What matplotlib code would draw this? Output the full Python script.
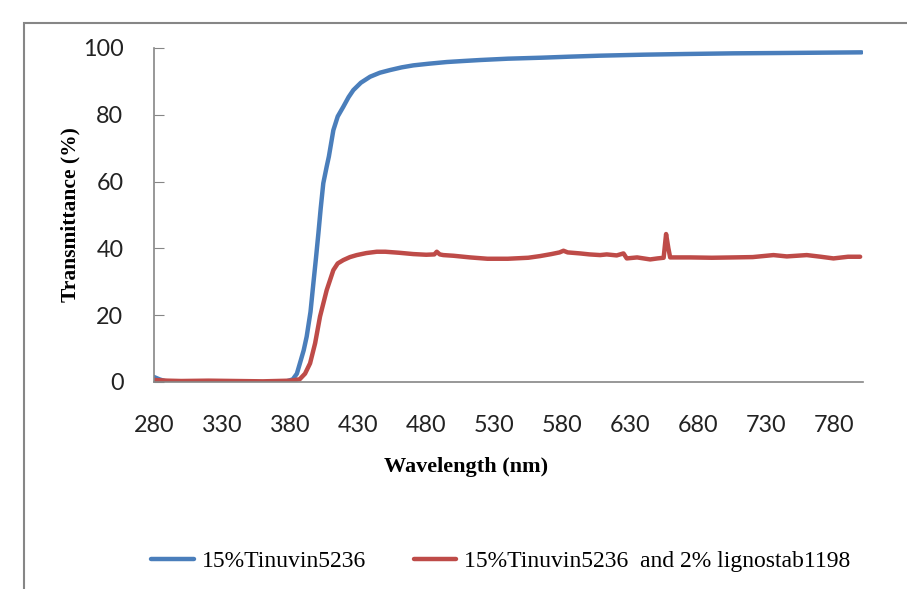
import matplotlib.pyplot as plt
from matplotlib.patches import Rectangle

# wavelength (nm) / transmittance (%)
wl_tinuvin = [280, 284, 290, 300, 320, 340, 360, 376, 382, 385, 387.3, 390, 392.2,
              395, 397.1, 399, 400.8, 402.5, 404.4, 406.9, 408.5, 411.8, 415, 419.1,
              423, 426.5, 432, 438.8, 446, 453.5, 462, 470.6, 482, 495.1, 507,
              519.6, 540, 565, 585, 607.8, 640, 670, 705.6, 740, 770, 800]
t_tinuvin = [1.5, 0.8, 0.0, -0.3, -0.3, -0.3, -0.3, 0.0, 0.8, 2.5, 5.7, 9.5, 13.6,
             21.0, 29.5, 37.0, 44.5, 52.0, 59.5, 64.5, 67.5, 75.4, 79.5, 82.4,
             85.3, 87.4, 89.6, 91.4, 92.6, 93.4, 94.2, 94.8, 95.3, 95.8, 96.1,
             96.4, 96.8, 97.1, 97.4, 97.7, 98.0, 98.2, 98.4, 98.5, 98.6, 98.7]

wl_ligno = [280, 290, 300, 320, 340, 360, 380, 387, 391, 394.7, 398.4, 402, 406.9,
            411.8, 415, 419.1, 424, 429, 436, 443.7, 450, 460, 470.6, 480, 486,
            487.8, 490, 492.6, 500, 512.3, 525, 540, 555, 563.7, 572, 578, 580.9,
            584, 593, 600, 607.8, 612.7, 620, 625, 627.4, 635, 644.6, 650, 654.5,
            656.3, 658, 659.3, 674, 690, 705.8, 720, 735.2, 745, 759.7, 770,
            779.3, 790, 798.9]
t_ligno = [0.6, 0.4, 0.3, 0.4, 0.3, 0.2, 0.4, 0.8, 2.5, 5.6, 11.6, 19.6, 27.5,
           33.5, 35.5, 36.5, 37.4, 38.0, 38.6, 39.0, 39.0, 38.7, 38.3, 38.1, 38.2,
           39.0, 38.2, 38.0, 37.8, 37.3, 36.9, 36.9, 37.2, 37.7, 38.3, 38.8, 39.3,
           38.8, 38.5, 38.2, 38.0, 38.2, 37.9, 38.5, 37.0, 37.3, 36.7, 37.0, 37.2,
           44.3, 40.0, 37.3, 37.3, 37.2, 37.3, 37.4, 38.0, 37.6, 38.0, 37.5,
           37.0, 37.5, 37.5]

x_labels = list(range(280, 781, 50))
y_ticks = [0, 20, 40, 60, 80, 100]

grey = '#868686'
serif = 'Liberation Serif'
sans = 'Lato'

fig = plt.figure(figsize=(9.07, 5.89), dpi=100)
ax = fig.add_axes([154 / 907, 1 - 382 / 589, 709 / 907, 334 / 589])

ax.plot(wl_tinuvin, t_tinuvin, color='#4A7EBB', lw=3.2, label='15%Tinuvin5236',
        solid_capstyle='round')
ax.plot(wl_ligno, t_ligno, color='#BE4B48', lw=3.2,
        label='15%Tinuvin5236  and 2% lignostab1198', solid_capstyle='round')

ax.set_xlim(280, 801)
ax.set_ylim(0, 100)
ax.set_xticks(x_labels)
ax.set_xticks(range(280, 781, 100), minor=True)
ax.set_yticks(y_ticks)
ax.tick_params(axis='x', which='major', length=0, pad=24, labelsize=16.8, labelcolor='#222222')
ax.tick_params(axis='x', which='minor', length=7, direction='in', color=grey)
ax.tick_params(axis='y', length=7, direction='in', color=grey, pad=22,
               labelsize=16.8, labelcolor='#222222')
for lab in ax.get_xticklabels() + ax.get_yticklabels():
    lab.set_fontfamily(sans)

for s in ['top', 'right']:
    ax.spines[s].set_visible(False)
for s in ['left', 'bottom']:
    ax.spines[s].set_color(grey)
    ax.spines[s].set_linewidth(1.2)

ax.set_xlabel('Wavelength (nm)', fontfamily=serif, fontweight='bold', fontsize=16, va='center')
ax.xaxis.set_label_coords((466 - 154) / 709, (382 - 467) / 334)
ax.set_ylabel('Transmittance (%)', fontfamily=serif, fontweight='bold', fontsize=15.5, va='center')
ax.yaxis.set_label_coords((70 - 154) / 709, 0.5)

fig.legend(loc='center', bbox_to_anchor=(501 / 907, 1 - 561 / 589), ncol=2,
           frameon=False, prop={'family': serif, 'size': 17}, handlelength=1.8,
           handletextpad=0.35, columnspacing=2.0)

# outer chart-area frame (runs off the right and bottom edges)
fig.patches.append(Rectangle((24 / 907, -0.1), 1.2, 1.1 - 23 / 589, fill=False,
                             edgecolor=grey, lw=1.5, transform=fig.transFigure))

fig.savefig('out.png', dpi=100)
